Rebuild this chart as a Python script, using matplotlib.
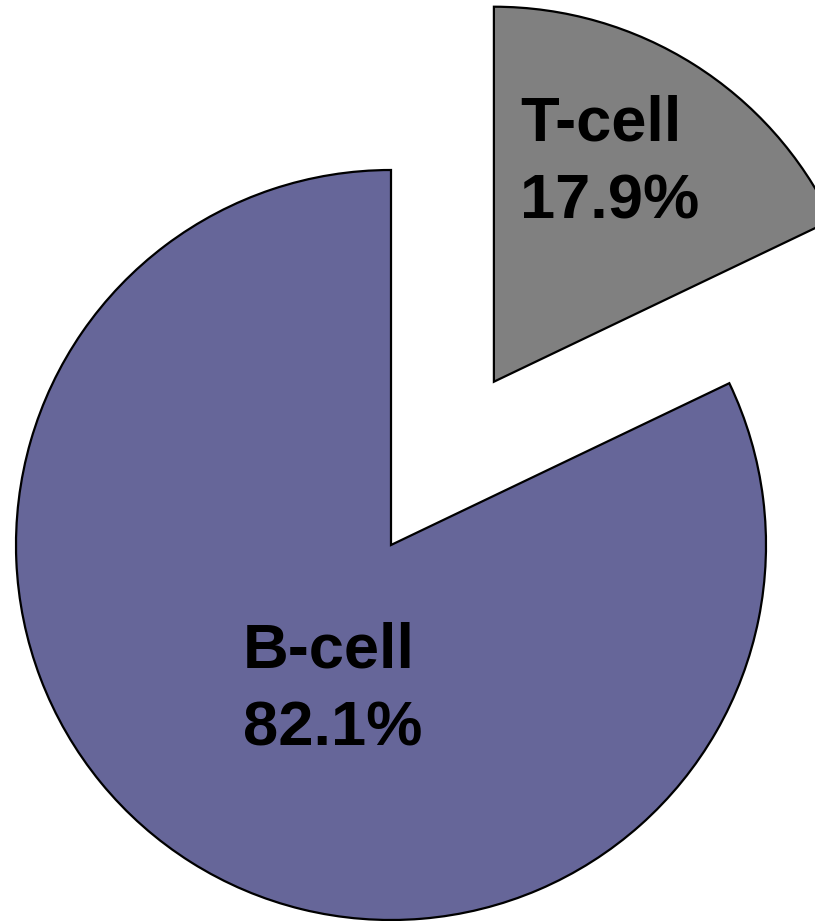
import matplotlib
matplotlib.use("Agg")
import matplotlib.pyplot as plt

categories = ["T-cell", "B-cell"]
shares = [17.9, 82.1]
colors = ["#808080", "#666699"]

W, H = 815, 921
fig = plt.figure(figsize=(W / 100, H / 100), dpi=100)
ax = fig.add_axes([0, 0, 1, 1])

radius = 375
center = (391, H - 545)
# explode offset is given in data units (pixels here)
ax.pie(shares, colors=colors, startangle=90, counterclock=False,
       explode=[193, 0.0], radius=radius, center=center,
       wedgeprops=dict(edgecolor="black", linewidth=1.6),
       frame=False)

ax.set_xlim(0, W)
ax.set_ylim(0, H)
ax.set_aspect("equal")
ax.axis("off")

font = dict(family=["Liberation Sans", "DejaVu Sans"], fontweight="bold",
            fontsize=45.5, color="black", ha="left", va="baseline")

# label anchors (name baseline, percentage baseline)
anchors = {"T-cell": (520, H - 140, H - 218),
           "B-cell": (243, H - 668, H - 746)}
for name, val in zip(categories, shares):
    x, y1, y2 = anchors[name]
    ax.text(x, y1, name, **font)
    ax.text(x, y2, f"{val:.1f}%", **font)

fig.savefig("out.png", dpi=100)
